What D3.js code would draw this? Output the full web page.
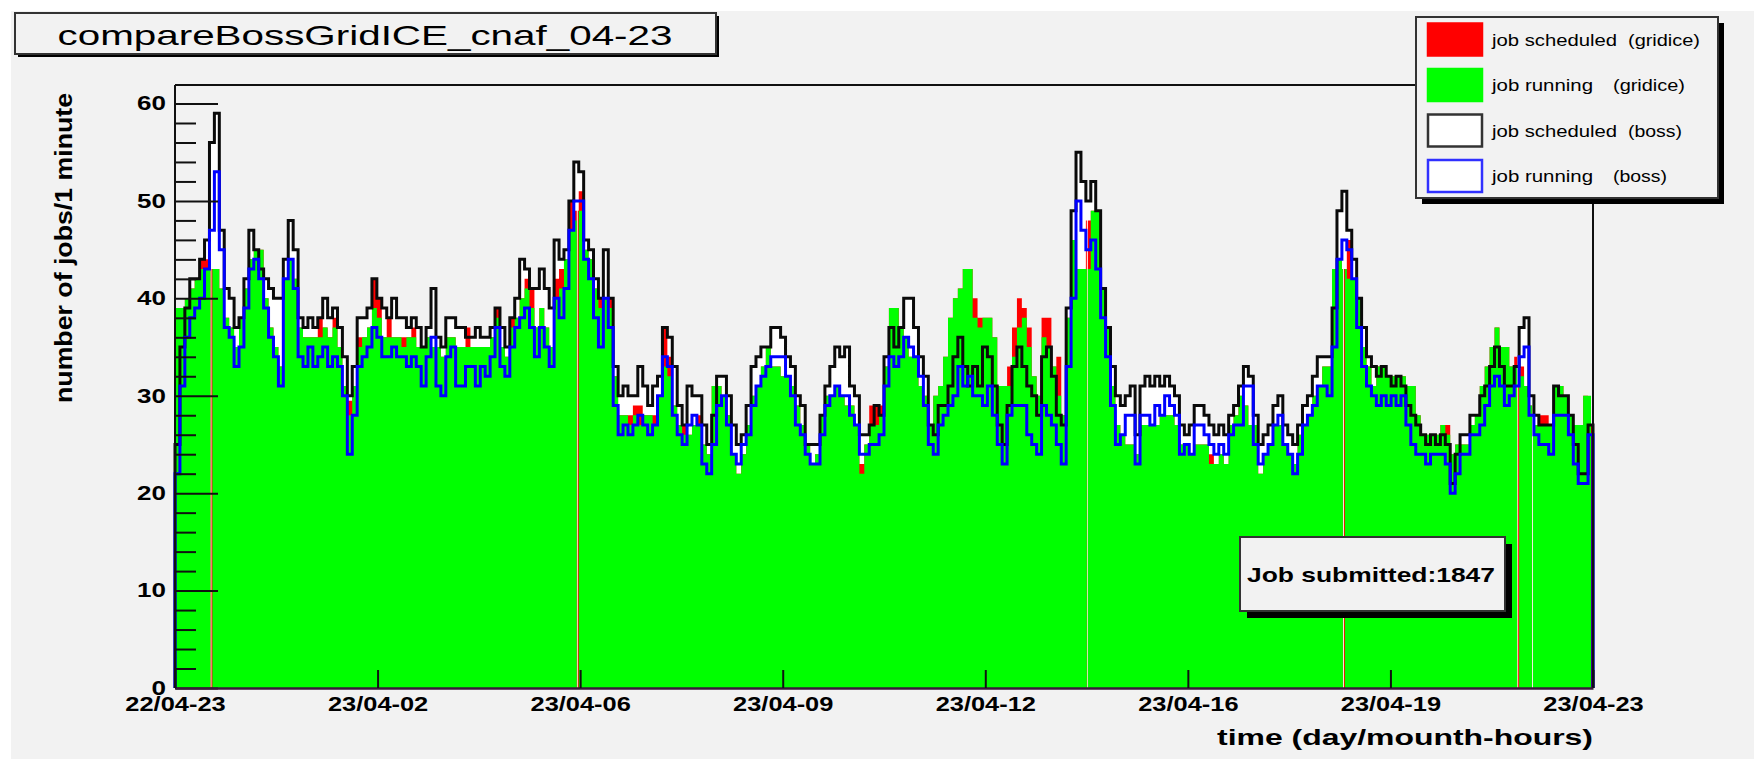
<!DOCTYPE html>
<html>
<head>
<meta charset="utf-8">
<script src="https://cdn.jsdelivr.net/npm/d3@7"></script>
<style>
  html, body { margin: 0; padding: 0; background: #ffffff; }
  svg { display: block; }
  text { font-family: "Liberation Sans", Arial, Helvetica, sans-serif; fill: #000; }
</style>
</head>
<body>
<svg id="chart" width="1754" height="759"></svg>
<script>
// ---- data: 5-minute bins over 24 h, starting 22/04 23:00 ----
const binMinutes = 5;

const runningGridice = [
  39,39,40,41,42,43,43,43,43,41,38,37,35,38,41,44,45,45,40,37,35,33,42,44,42,37,36,36,36,36,37,36,37,35,31,28,31,35,36,37,39,38,36,36,36,36,35,36,
  36,35,35,36,35,35,34,36,36,35,35,35,35,35,35,35,36,38,35,34,37,38,40,41,39,37,39,37,35,40,41,44,47,48,49,45,44,41,39,40,39,32,28,28,27,28,27,28,28,
  27,30,33,32,29,27,26,26,27,27,25,24,31,31,30,28,24,22,24,27,30,31,33,35,33,33,32,32,31,29,27,25,23,24,28,30,30,31,30,29,29,27,22,25,27,27,28,33,39,
  39,37,36,34,34,31,30,27,30,31,34,38,40,41,43,43,38,37,38,38,36,31,31,31,34,37,38,35,32,30,36,35,33,30,28,38,46,43,43,43,49,49,41,37,31,27,26,25,25,
  24,27,27,27,27,28,28,28,27,25,25,24,25,25,25,23,23,24,23,27,28,30,29,27,27,22,24,25,27,27,25,24,23,26,27,28,30,31,33,33,43,44,43,42,42,40,35,33,31,
  33,33,32,32,32,32,31,31,28,26,26,26,26,27,26,24,25,25,25,27,28,31,33,35,37,35,35,33,33,32,31,29,27,27,27,27,31,31,30,28,27,27,30,30
];
const scheduledGridice = [
  39,39,40,41,42,44,44,43,43,41,38,37,35,38,41,44,45,45,40,37,35,33,42,44,42,37,36,36,36,38,37,36,38,35,31,29.5,31,36,36,37,42,40,36,38,36,36,36,36,
  37,35,35,36,35,35,34,36,36,35,35,37,35,35,35,35,36,39,35,34,38,38,40,42,41,37,39,37,35,42,43,44,50,49,51,45,44,41,40,40,40,32,28,28,28,29,29,28,28,
  28,30,37,34,29,27,27,26,27,28,25,24,31,31,30,28,24,22,24,27,30,31,33,35,33,33,32,32,31,29,27,25,23,24,28,30,30,31,30,29,29,27,23,25,29,29,29,33,39,
  39,37,36,34,34,31,30,27,30,31,34,38,40,41,43,43,40,38,38,38,36,31,31,33,37,40,39,37,32,30,38,38,33,34,28,38,46,43,43,48,49,49,41,37,31,27,26,25,25,
  24,27,27,27,27,28,28,28,27,25,25,24,25,25,25,24,23,24,23,27,28,30,29,27,27,22,24,25,27,27,25,24,23,26,27,28,30,31,33,33,43,44,43,46,42,40,35,33,31,
  33,33,32,32,32,32,31,31,28,26,26,26,26,27,27,24,25,25,25,27,28,31,33,35,37,35,35,33,34,33,31,29,27,28,28,27,31,31,30,28,27,27,30,27
];
const scheduledBoss = [
  25,35,39,42,42,44,46,56,59,47,41,40,37,38,42,47,45,43,42,41,40,40,44,48,45,38,37,38,37,38,40,38,39,37,34,30,33,38,38,39,42,40,39,38,40,38,38,37,
  38,37,35,37,41,36,35,38,38,37,37,36,36,37,36,36,37,39,37,35,38,40,44,43,41,41,43,41,39,46,44,45,50,54,53,46,45,42,40,45,40,33,30,31,30,30,33,31,29,
  31,32,37,36,33,29,27,31,30,30,27,25,28,32,32,30,27,25,26,29,33,34,35,35,37,37,36,34,33,30,29,25,25,25,28,31,33,35,34,35,31,30,26,26,27,29,28,34,37,
  35,37,40,40,37,34,32,27,26,29,29,31,34,36,33,31,33,31,35,34,31,27,25,29,33,35,33,31,30,28,34,35,32,28,27,39,49,55,52,50,52,49,41,37,33,30,29,30,31,
  26,31,32,31,32,31,32,31,30,27,26,27,29,29,28,27,26,27,26,28,29,31,33,32,28,25,26,27,29,30,27,26,25,27,29,30,32,34,34,34,39,49,51,47,44,40,37,34,33,
  32,33,32,31,32,31,29,28,27,26,25,26,25,26,25,21,24,26,26,28,28,30,31,33,35,33,31,31,33,37,38,30,28,27,27,27,31,30,30,28,25,22,22,27
];
const runningBoss = [
  22,31,36,38,39,40,43,47,53,45,37,36,33,35,39,43,44,42,39,36,34,31,42,44,41,34,33,35,33,34,35,33,34,33,30,24,28,33,34,35,37,36,34,34,35,34,34,33,
  34,33,31,34,36,31,30,34,35,31,31,33,33,31,33,32,34,37,33,32,35,37,38,39,37,34,37,35,33,40,38,41,47,50,50,44,42,38,35,40,37,29,26,27,26,27,28,27,26,
  27,30,34,33,28,26,25,27,28,27,23,22,25,29,30,27,24,23,25,26,29,31,32,33,34,34,34,32,30,27,26,24,23,23,26,29,30,31,30,30,28,27,24,24,25,25,26,31,34,
  33,34,36,35,34,32,29,25,24,27,28,29,30,33,31,32,30,30,29,31,28,25,23,28,29,29,29,26,25,24,29,28,27,25,23,33,40,50,47,45,46,43,38,34,29,25,26,28,28,
  23,28,28,27,29,28,30,29,28,24,25,24,27,27,26,25,24,25,24,26,27,27,31,31,25,23,24,25,27,28,25,24,22,24,27,28,29,31,31,30,35,44,46,45,42,37,33,31,30,
  29,30,29,30,29,30,27,25,24,24,23,24,24,24,23,20,22,24,24,26,26,27,29,31,32,31,29,30,31,34,35,28,26,25,25,24,28,28,28,26,23,21,21,26
];

// minutes in which gridice reported nothing at all
const gridiceDropouts = [36, 408, 926, 1186, 1363, 1378];
// minutes in which gridice reported no running jobs (scheduled still counted)
const runningDropouts = [37, 409, 1187, 1364, 1438, 1439];

const timeLabels = ["22/04-23", "23/04-02", "23/04-06", "23/04-09", "23/04-12", "23/04-16", "23/04-19", "23/04-23"];
const legendEntries = [
  { name: "job scheduled", source: "(gridice)", fill: "#ff0000", stroke: "#ff0000" },
  { name: "job running",   source: "(gridice)", fill: "#00ff00", stroke: "#00ff00" },
  { name: "job scheduled", source: "(boss)",    fill: "#ffffff", stroke: "#333333" },
  { name: "job running",   source: "(boss)",    fill: "#ffffff", stroke: "#3030ff" }
];
const titleText = "compareBossGridICE_cnaf_04-23";
const submittedJobs = 1847;

// ---- layout ----
const W = 1754, H = 759;
const frame = { left: 175, right: 1593, top: 85, bottom: 688 };
const totalMinutes = 24 * 60;
const yMax = 61.9;

const svg = d3.select("#chart");

// stretch text horizontally to a given factor of its natural width
function stretch(sel, factor) {
  sel.each(function () {
    const len = this.getComputedTextLength();
    this.setAttribute("textLength", (len * factor).toFixed(1));
    this.setAttribute("lengthAdjust", "spacingAndGlyphs");
  });
}

// canvas
svg.append("rect").attr("x", 0).attr("y", 0).attr("width", W).attr("height", H).attr("fill", "#ffffff");
svg.append("rect").attr("x", 11).attr("y", 11).attr("width", W - 11).attr("height", H - 11).attr("fill", "#f2f2f2");

const x = d3.scaleLinear().domain([0, totalMinutes]).range([frame.left, frame.right]);
const y = d3.scaleLinear().domain([0, yMax]).range([frame.bottom, frame.top]);

// expand 5-minute bins to per-minute counts, applying the dropouts
function perMinute(bins, zeroMinutes) {
  const zero = new Set(zeroMinutes);
  const out = [];
  for (let m = 0; m < totalMinutes; m++) {
    out.push(zero.has(m) ? 0 : bins[Math.floor(m / binMinutes)]);
  }
  return out;
}
const gRun = perMinute(runningGridice, runningDropouts.concat(gridiceDropouts));
const gSch = perMinute(scheduledGridice, gridiceDropouts);
const bSch = perMinute(scheduledBoss, []);
const bRun = perMinute(runningBoss, []);

function stepPoints(vals) {
  const pts = vals.map((v, i) => [i, v]);
  pts.push([vals.length, vals[vals.length - 1]]);
  return pts;
}
const area = d3.area().curve(d3.curveStepAfter)
  .x(d => x(d[0])).y0(y(0)).y1(d => y(d[1]));
const outline = d3.line().curve(d3.curveStepAfter)
  .x(d => x(d[0])).y(d => y(d[1]));

function outlinePoints(vals) {
  const pts = [[0, 0]].concat(stepPoints(vals));
  pts.push([vals.length, 0]);
  return pts;
}

const plot = svg.append("g");
plot.append("path").attr("d", area(stepPoints(bSch))).attr("fill", "#ffffff");
plot.append("path").attr("d", area(stepPoints(bRun))).attr("fill", "#ffffff");
plot.append("path").attr("d", area(stepPoints(gSch))).attr("fill", "#ff0000");
plot.append("path").attr("d", area(stepPoints(gRun))).attr("fill", "#00ff00");
plot.append("path").attr("d", outline(outlinePoints(bSch)))
  .attr("fill", "none").attr("stroke", "#0a0a0a").attr("stroke-width", 3);
plot.append("path").attr("d", outline(outlinePoints(bRun)))
  .attr("fill", "none").attr("stroke", "#0000ff").attr("stroke-width", 3);

// frame
svg.append("path")
  .attr("d", `M${frame.left},${frame.top}H${frame.right}V${frame.bottom}`)
  .attr("fill", "none").attr("stroke", "#111").attr("stroke-width", 2);

// y axis: major ticks every 10, minor every 2, drawn inward
const yMajor = d3.range(0, 61, 10);
const yMinor = d3.range(0, 61, 2).filter(v => v % 10 !== 0);
const yAxisMinor = svg.append("g").attr("transform", `translate(${frame.left},0)`)
  .call(d3.axisLeft(y).tickValues(yMinor).tickSizeInner(-21).tickSizeOuter(0).tickFormat(""));
yAxisMinor.select(".domain").remove();
yAxisMinor.selectAll("line").attr("stroke", "#111").attr("stroke-width", 2);

const yAxis = svg.append("g").attr("transform", `translate(${frame.left},0)`)
  .call(d3.axisLeft(y).tickValues(yMajor).tickSizeInner(-43).tickSizeOuter(0).tickPadding(9).tickFormat(d3.format("d")));
yAxis.select(".domain").attr("d", `M0,${frame.bottom}V${frame.top}`).attr("stroke", "#111").attr("stroke-width", 2);
yAxis.selectAll("line").attr("stroke", "#111").attr("stroke-width", 2);
yAxis.selectAll("text").attr("font-size", 20).attr("font-weight", "bold")
  .attr("font-family", "Liberation Sans, Arial, sans-serif");
stretch(yAxis.selectAll("text"), 1.3);

// x axis
const xTicks = timeLabels.map((_, i) => i * totalMinutes / (timeLabels.length - 1));
const xAxis = svg.append("g").attr("transform", `translate(0,${frame.bottom})`)
  .call(d3.axisBottom(x).tickValues(xTicks).tickSizeInner(-18).tickSizeOuter(0).tickPadding(8)
    .tickFormat((d, i) => timeLabels[i]));
xAxis.select(".domain").attr("stroke", "#3a1a3a").attr("stroke-width", 2.5);
xAxis.selectAll("line").attr("stroke", "#111").attr("stroke-width", 2);
xAxis.selectAll("text").attr("font-size", 21).attr("font-weight", "bold")
  .attr("font-family", "Liberation Sans, Arial, sans-serif");
stretch(xAxis.selectAll("text"), 1.21);

// axis titles
const yTitle = svg.append("text")
  .attr("transform", `translate(72,248) scale(1.15,1) rotate(-90)`)
  .attr("text-anchor", "middle").attr("font-size", 20).attr("font-weight", "bold")
  .text("number of jobs/1 minute");
yTitle.attr("textLength", 310).attr("lengthAdjust", "spacingAndGlyphs");

svg.append("text")
  .attr("x", frame.right).attr("y", 745).attr("text-anchor", "end")
  .attr("font-size", 22).attr("font-weight", "bold")
  .attr("textLength", 376).attr("lengthAdjust", "spacingAndGlyphs")
  .text("time (day/mounth-hours)");

// shadowed box helper
function box(x0, y0, w, h, shadow) {
  const g = svg.append("g");
  g.append("rect").attr("x", x0 + shadow).attr("y", y0 + shadow).attr("width", w).attr("height", h).attr("fill", "#000");
  g.append("rect").attr("x", x0).attr("y", y0).attr("width", w).attr("height", h)
    .attr("fill", "#f2f2f2").attr("stroke", "#333").attr("stroke-width", 2);
  return g;
}

// title
const tBox = box(15, 13, 701, 41, 3);
tBox.append("text").attr("x", 365).attr("y", 45).attr("text-anchor", "middle")
  .attr("font-size", 28).attr("textLength", 615).attr("lengthAdjust", "spacingAndGlyphs")
  .text(titleText);

// legend
const lg = box(1416, 17, 302, 181, 6);
const rowY = [39.5, 85, 130.5, 176];
legendEntries.forEach((e, i) => {
  const cy = rowY[i];
  lg.append("rect").attr("x", 1428).attr("y", cy - 16).attr("width", 54).attr("height", 32)
    .attr("fill", e.fill).attr("stroke", e.stroke).attr("stroke-width", 2.5);
  const t1 = lg.append("text").attr("x", 1492).attr("y", cy + 6).attr("font-size", 16).text(e.name);
  t1.attr("textLength", e.name === "job scheduled" ? 125 : 101).attr("lengthAdjust", "spacingAndGlyphs");
  const sx = e.name === "job scheduled" ? 1628 : 1613;
  const t2 = lg.append("text").attr("x", sx).attr("y", cy + 6).attr("font-size", 16).text(e.source);
  t2.attr("textLength", e.source === "(gridice)" ? 72 : 54).attr("lengthAdjust", "spacingAndGlyphs");
});

// submitted jobs box
const sBox = box(1240, 537, 265, 74, 7);
sBox.append("text").attr("x", 1371).attr("y", 582).attr("text-anchor", "middle")
  .attr("font-size", 21).attr("font-weight", "bold")
  .attr("textLength", 248).attr("lengthAdjust", "spacingAndGlyphs")
  .text("Job submitted:" + submittedJobs);
</script>
</body>
</html>
